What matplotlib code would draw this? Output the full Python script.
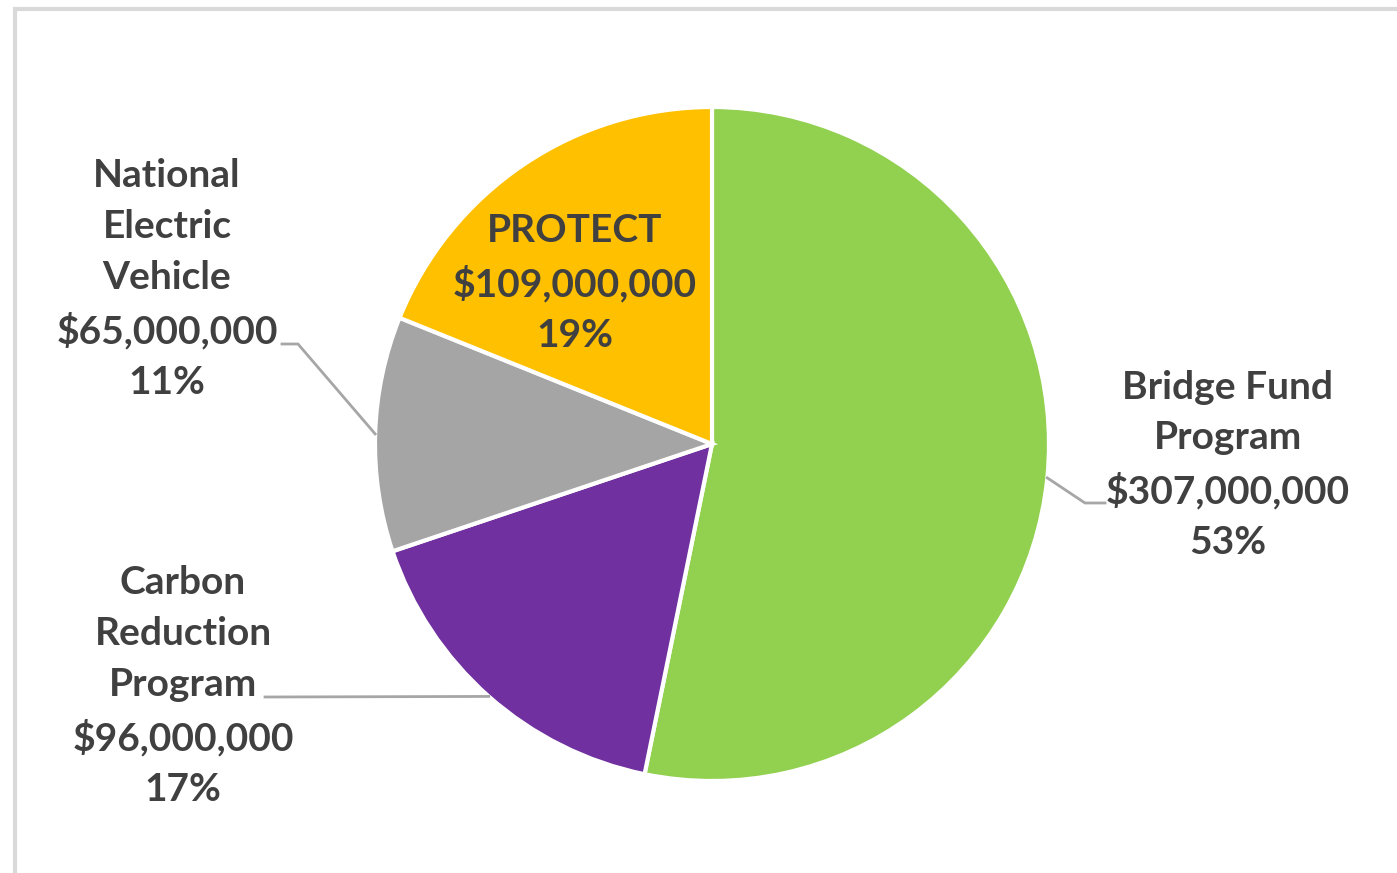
import numpy as np
import matplotlib.pyplot as plt

# funding by program, clockwise from 12 o'clock
programs = ["Bridge Fund\nProgram", "Carbon\nReduction\nProgram", "National\nElectric\nVehicle", "PROTECT"]
amounts = [307000000, 96000000, 65000000, 109000000]
colors = ["#92D050", "#7030A0", "#A5A5A5", "#FFC000"]

W, H = 1397, 873
fig = plt.figure(figsize=(W / 100, H / 100), dpi=100)
ax = fig.add_axes([0, 0, 1, 1])

cx, cy, r = 712, H - 444, 337
wedges, _ = ax.pie(amounts, colors=colors, startangle=90, counterclock=False,
                   center=(cx, cy), radius=r, frame=True,
                   wedgeprops=dict(edgecolor="white", linewidth=3))
ax.set_xlim(0, W)
ax.set_ylim(0, H)
ax.axis("off")

# light chart border
ax.plot([15, 15, W + 5], [-5, H - 9, H - 9], color="#D9D9D9", lw=3, solid_joinstyle="miter")

total = sum(amounts)
txt = dict(fontsize=28, fontweight="bold", color="#404040", ha="center", va="center",
           family=["Lato", "DejaVu Sans"], linespacing=1.54)


def label(i):
    return f"{programs[i]}\n${amounts[i]:,}\n{amounts[i] / total:.0%}"


def edge_point(w):
    a = np.deg2rad((w.theta1 + w.theta2) / 2)
    return cx + r * np.cos(a), cy + r * np.sin(a)


# label positions (px from top) and leader elbows
ax.text(1228, H - 465, label(0), **txt)
ax.text(183, H - 686, label(1), **txt)
ax.text(167, H - 279, label(2), **txt)
ax.text(575, H - 283, label(3), **txt)

lead = dict(color="#A6A6A6", lw=2)
ex, ey = edge_point(wedges[0])
ax.plot([ex, 1085, 1105], [ey, H - 503, H - 503], **lead)
ex, ey = edge_point(wedges[1])
ax.plot([ex, 265], [ey, H - 697], **lead)
ex, ey = edge_point(wedges[2])
ax.plot([ex, 298, 282], [ey, H - 344, H - 344], **lead)

fig.savefig("out.png", dpi=100)
